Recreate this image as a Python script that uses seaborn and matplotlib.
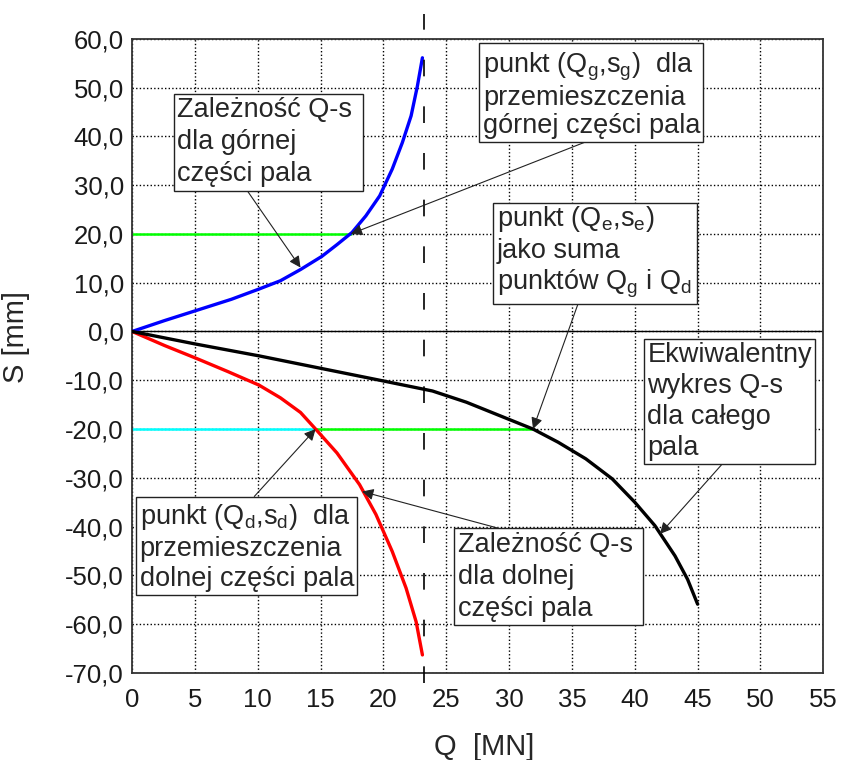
import seaborn as sns
import matplotlib
matplotlib.use('Agg')
import matplotlib.pyplot as plt
import pandas as pd

# Q-s curve for the upper part of the pile (blue)
q_gorna = [0, 2.6, 5.1, 7.9, 10.1, 11.8, 13.4, 15.1, 16.3, 17.5, 18.6, 19.7,
           20.7, 21.5, 22.2, 22.7, 23.1]
s_gorna = [0, 2.25, 4.3, 6.6, 8.7, 10.4, 12.7, 15.4, 17.8, 20.3, 23.7, 27.8,
           33.3, 38.7, 44.2, 50.3, 56.1]

# Q-s curve for the lower part of the pile (red)
q_dolna = [0, 2.6, 5.1, 7.6, 10.1, 11.8, 13.4, 14.6, 16.3, 18.1, 19.4, 20.7,
           21.8, 22.6, 23.1]
s_dolna = [0, -2.9, -5.5, -8.2, -11.0, -13.6, -16.6, -20.0, -24.9, -31.4,
           -37.5, -45.1, -52.6, -59.5, -66.3]

# equivalent Q-s curve for the whole pile (black)
q_cale = [0, 5.1, 10.1, 15.1, 20.1, 23.9, 26.6, 29.2, 31.9, 33.9, 36.1, 38.2,
          40.0, 41.6, 43.2, 44.2, 45.0]
s_cale = [0, -2.6, -5.0, -7.6, -10.2, -12.2, -14.5, -17.2, -20.0, -22.7, -26.1,
          -30.2, -35.0, -39.8, -46.0, -50.8, -55.9]

q_graniczne = 23.2          # dashed vertical line
s_punkt = 20.0              # displacement level used for the construction
q_g, q_d, q_e = 17.4, 14.6, 31.9

x_ticks = list(range(0, 56, 5))
y_ticks = list(range(-70, 61, 10))

sns.set_theme(style='white')
plt.rcParams['font.family'] = ['Liberation Sans', 'DejaVu Sans']
plt.rcParams['mathtext.fontset'] = 'custom'
plt.rcParams['mathtext.rm'] = 'Liberation Sans'

fig = plt.figure(figsize=(8.47, 7.6), dpi=100)
ax = fig.add_axes([0.156, 0.1145, 0.816, 0.8345])

df_g = pd.DataFrame({'Q': q_gorna, 's': s_gorna})
df_d = pd.DataFrame({'Q': q_dolna, 's': s_dolna})
df_e = pd.DataFrame({'Q': q_cale, 's': s_cale})

# construction lines
ax.plot([0, q_g], [s_punkt, s_punkt], color='#00ff00', lw=1.8, zorder=2)
ax.plot([0, q_d], [-s_punkt, -s_punkt], color='#00ffff', lw=1.8, zorder=2)
ax.plot([q_d, q_e], [-s_punkt, -s_punkt], color='#00ff00', lw=1.8, zorder=2)
ax.axhline(0, color='black', lw=1, zorder=2)

sns.lineplot(data=df_g, x='Q', y='s', sort=False, color='#0000ff', lw=2.4, ax=ax, zorder=3)
sns.lineplot(data=df_d, x='Q', y='s', sort=False, color='#ff0000', lw=2.4, ax=ax, zorder=3)
sns.lineplot(data=df_e, x='Q', y='s', sort=False, color='black', lw=2.4, ax=ax, zorder=3)

ax.plot([q_graniczne, q_graniczne], [-72, 65], color='black', lw=1.2,
        dashes=(10, 18), clip_on=False, zorder=4)

ax.set_xlim(0, 55)
ax.set_ylim(-70, 60)
ax.set_xticks(x_ticks)
ax.set_yticks(y_ticks)
ax.set_xticklabels([str(v) for v in x_ticks])
ax.set_yticklabels([f'{v:.1f}'.replace('.', ',') for v in y_ticks])
ax.tick_params(axis='both', length=0, labelsize=18.5, colors='#1a1a1a')
ax.tick_params(axis='x', pad=11)
ax.tick_params(axis='y', pad=6)
ax.grid(True, color='black', lw=1, linestyle=(0, (1, 1.6)))
for sp in ax.spines.values():
    sp.set_color('#333333')
    sp.set_linewidth(1.3)

ax.set_xlabel('Q  [MN]', fontsize=21)
ax.set_ylabel('S [mm]', fontsize=21)
ax.xaxis.set_label_coords(0.51, -0.094)
ax.yaxis.set_label_coords(-0.148, 0.53)

box = dict(boxstyle='square,pad=0.12', fc='white', ec='#222222', lw=1)

def opis(tekst, cel, poz, rel, ls=1.25):
    ax.annotate(tekst, xy=cel, xytext=poz, textcoords='data',
                ha='left', va='top', fontsize=19.5, linespacing=ls,
                bbox=box, zorder=6,
                arrowprops=dict(arrowstyle='-|>', color='#222222', lw=0.8,
                                mutation_scale=17, relpos=rel,
                                shrinkA=0, shrinkB=0))

opis('Zależność Q-s \ndla górnej\nczęści pala', (13.4, 13.1), (3.6, 48.0), (0.37, 0), 1.3)
opis('punkt (Q$\\mathregular{_g}$,s$\\mathregular{_g}$)  dla\nprzemieszczenia\ngórnej części pala',
     (q_g, s_punkt), (27.9, 57.6), (0.51, 0), 1.1)
opis('punkt (Q$\\mathregular{_e}$,s$\\mathregular{_e}$)\njako suma\npunktów Q$\\mathregular{_g}$ i Q$\\mathregular{_d}$ ',
     (q_e, -s_punkt), (29.0, 26.2), (0.42, 0), 1.2)
opis('Ekwiwalentny\nwykres Q-s\ndla całego\npala', (42.0, -41.5), (41.0, -2.2), (0.47, 0), 1.25)
opis('punkt (Q$\\mathregular{_d}$,s$\\mathregular{_d}$)  dla\nprzemieszczenia\ndolnej części pala',
     (q_d, -s_punkt), (0.6, -35.0), (0.51, 1), 1.2)
opis('Zależność Q-s \ndla dolnej\nczęści pala', (18.3, -32.8), (25.9, -41.0), (0.29, 1), 1.3)

plt.savefig('out.png', dpi=100)
plt.close()
